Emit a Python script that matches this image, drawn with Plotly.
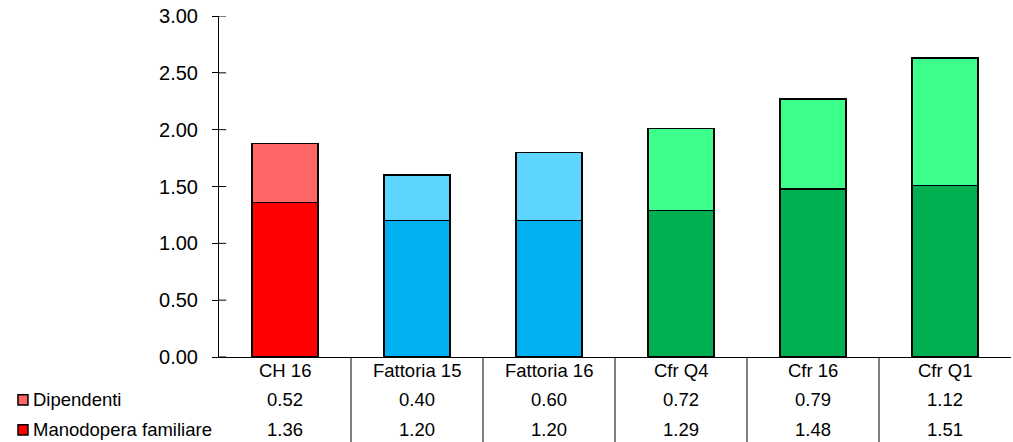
import plotly.graph_objects as go

categories = ["CH 16", "Fattoria 15", "Fattoria 16", "Cfr Q4", "Cfr 16", "Cfr Q1"]
manodopera = [1.36, 1.20, 1.20, 1.29, 1.48, 1.51]
dipendenti = [0.52, 0.40, 0.60, 0.72, 0.79, 1.12]
y_ticks = [0.0, 0.5, 1.0, 1.5, 2.0, 2.5, 3.0]

# colours per group: CH red, Fattoria blue, Cfr green
dark_colors = ["#FF0000", "#00B0F0", "#00B0F0", "#00B050", "#00B050", "#00B050"]
light_colors = ["#FF6666", "#5DD5FF", "#5DD5FF", "#3DFF8C", "#3DFF8C", "#3DFF8C"]

FONT = "Liberation Sans, Arial, sans-serif"

fig = go.Figure()
fig.add_trace(go.Bar(
    x=categories, y=manodopera, name="Manodopera familiare",
    marker=dict(color=dark_colors, line=dict(color="black", width=1.5)),
    width=0.5, showlegend=False, hoverinfo="x+y",
))
fig.add_trace(go.Bar(
    x=categories, y=dipendenti, name="Dipendenti",
    marker=dict(color=light_colors, line=dict(color="black", width=1.5)),
    width=0.5, showlegend=False, hoverinfo="x+y",
))

# data table below the chart
row_header_y = -0.041
row_dip_y = -0.126
row_man_y = -0.214
annotations = []
for i, cat in enumerate(categories):
    for text, y in [(cat, row_header_y), (f"{dipendenti[i]:.2f}", row_dip_y),
                    (f"{manodopera[i]:.2f}", row_man_y)]:
        annotations.append(dict(x=cat, y=y, xref="x", yref="paper", text=text,
                                xanchor="center", yanchor="middle",
                                showarrow=False, font=dict(size=18.5, color="black")))

for label, y in [("Dipendenti", row_dip_y), ("Manodopera familiare", row_man_y)]:
    annotations.append(dict(x=-0.2375, y=y, xref="paper", yref="paper", text=label,
                            xanchor="left", yanchor="middle", showarrow=False,
                            font=dict(size=18.5, color="black")))

shapes = []
# legend keys
for col, y in [(light_colors[0], row_dip_y), (dark_colors[0], row_man_y)]:
    shapes.append(dict(type="rect", xref="paper", yref="paper",
                       x0=-0.2538, x1=-0.2412, y0=y - 0.015, y1=y + 0.015,
                       fillcolor=col, line=dict(color="black", width=1.5)))
# table column separators
for k in range(len(categories) - 1):
    shapes.append(dict(type="line", xref="x", yref="paper", x0=k + 0.5, x1=k + 0.5,
                       y0=0, y1=-0.26, line=dict(color="black", width=1)))
# inner half of the crossing tick marks
for v in y_ticks:
    shapes.append(dict(type="line", xref="paper", yref="y", x0=0, x1=0.009,
                       y0=v, y1=v, line=dict(color="black", width=1)))

fig.update_layout(
    barmode="stack",
    width=1013, height=442,
    margin=dict(l=219, r=2, t=16, b=85),
    paper_bgcolor="white", plot_bgcolor="white",
    font=dict(family=FONT, color="black"),
    annotations=annotations,
    shapes=shapes,
    xaxis=dict(showticklabels=False, ticks="", showline=True, linecolor="black",
               linewidth=1, showgrid=False, zeroline=False, range=[-0.5, 5.5]),
    yaxis=dict(range=[0, 3], tickvals=y_ticks, tickformat=".2f", ticks="outside", ticklen=6,
               tickcolor="black", showline=True, linecolor="black", linewidth=1,
               showgrid=False, zeroline=False, tickfont=dict(size=20),
               ticklabelstandoff=10),
)

fig.write_html("out.html", config={"displayModeBar": False},
               post_script="document.body.style.margin='0';")
